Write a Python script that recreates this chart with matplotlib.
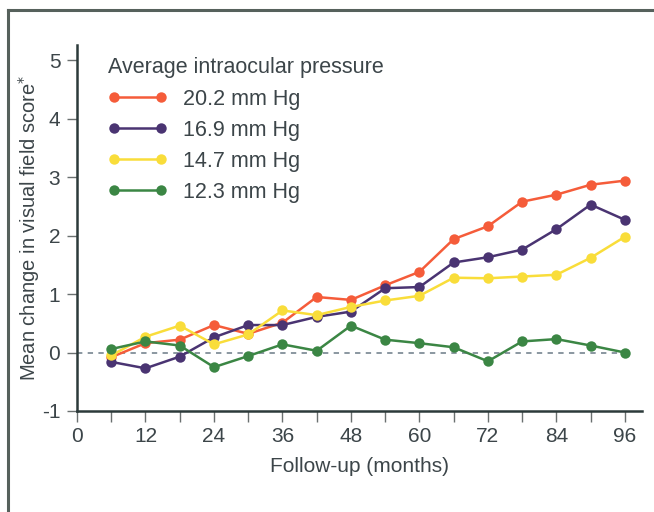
import matplotlib
matplotlib.use("Agg")
import matplotlib.pyplot as plt
from matplotlib.lines import Line2D
from matplotlib.legend_handler import HandlerLine2D

plt.rcParams['font.family'] = ['Liberation Sans', 'DejaVu Sans']

months = [6, 12, 18, 24, 30, 36, 42, 48, 54, 60, 66, 72, 78, 84, 90, 96]
series_labels = ["20.2 mm Hg", "16.9 mm Hg", "14.7 mm Hg", "12.3 mm Hg"]
iop_20_2 = [-0.08, 0.16, 0.22, 0.47, 0.32, 0.51, 0.95, 0.90, 1.15, 1.38, 1.94, 2.16, 2.58, 2.70, 2.87, 2.94]
iop_16_9 = [-0.16, -0.27, -0.07, 0.26, 0.47, 0.47, 0.61, 0.70, 1.10, 1.12, 1.54, 1.63, 1.76, 2.11, 2.53, 2.27]
iop_14_7 = [-0.05, 0.27, 0.46, 0.14, 0.31, 0.72, 0.64, 0.78, 0.89, 0.97, 1.28, 1.27, 1.30, 1.33, 1.62, 1.98]
iop_12_3 = [0.06, 0.19, 0.12, -0.25, -0.06, 0.14, 0.03, 0.46, 0.22, 0.16, 0.09, -0.15, 0.19, 0.23, 0.12, 0.00]
colors = ["#f55c3a", "#4a3472", "#f9dd3a", "#3b8644"]
x_ticks = [0, 12, 24, 36, 48, 60, 72, 84, 96]
y_ticks = [-1, 0, 1, 2, 3, 4, 5]

text_color = "#3c4549"
spine_color = "#2c3a3a"


class ShiftedHandler(HandlerLine2D):
    def __init__(self, shift, **kw):
        super().__init__(**kw)
        self.shift = shift

    def create_artists(self, legend, orig_handle, xdescent, ydescent, width,
                       height, fontsize, trans):
        return super().create_artists(legend, orig_handle, xdescent - self.shift,
                                      ydescent, width - self.shift, height,
                                      fontsize, trans)


fig = plt.figure(figsize=(6.54, 5.12), dpi=100)
fig.patch.set_facecolor("white")
ax = fig.add_axes([77/654, 101/512, 565/654, 366/512])

ax.axhline(0, xmin=0, xmax=(633-77)/565, color="#6b7a86", lw=1.1,
           ls=(0, (3.5, 3.5)), zorder=1)

for vals, lab, c in zip([iop_20_2, iop_16_9, iop_14_7, iop_12_3], series_labels, colors):
    ax.plot(months, vals, color=c, lw=1.8, marker="o", markersize=7.5,
            markeredgewidth=0, label=lab, zorder=3)

ax.set_xlim(0, 99)
ax.set_ylim(-1, 5.26)
ax.set_xticks(x_ticks)
ax.set_xticks([6 + 12 * i for i in range(8)], minor=True)
ax.set_yticks(y_ticks)
ax.set_yticklabels([str(v) for v in y_ticks])

for side in ["top", "right"]:
    ax.spines[side].set_visible(False)
for side in ["left", "bottom"]:
    ax.spines[side].set_color(spine_color)
    ax.spines[side].set_linewidth(1.8)

ax.tick_params(axis="both", which="both", direction="out", width=1.0,
               color="#6a7070", labelcolor=text_color, labelsize=15)
ax.tick_params(axis="y", which="major", length=7, pad=5)
ax.tick_params(axis="x", which="both", length=8, pad=3.5)

ax.set_xlabel("Follow-up (months)", fontsize=15, color=text_color, labelpad=8)
ax.set_ylabel("Mean change in visual field score$^{*}$", fontsize=14.5,
              color=text_color, labelpad=0)

leg = ax.legend(title="Average intraocular pressure", loc="upper left",
                bbox_to_anchor=(102/654, 461/512), bbox_transform=fig.transFigure,
                frameon=False, fontsize=15.5, title_fontsize=15.5, numpoints=2,
                handlelength=2.45, handletextpad=1.0, labelspacing=0.47,
                alignment="left", borderaxespad=0, borderpad=0.3,
                handler_map={Line2D: ShiftedHandler(4.0, marker_pad=0)})
for t in leg.get_texts():
    t.set_color(text_color)
leg.get_title().set_color(text_color)

# page frame (top and left borders)
fig.add_artist(Line2D([8/654, 1.0], [1 - 10/512, 1 - 10/512], transform=fig.transFigure,
                      color="#56615c", lw=2.2))
fig.add_artist(Line2D([8/654, 8/654], [0, 1 - 10/512], transform=fig.transFigure,
                      color="#56615c", lw=2.2))

fig.savefig("out.png", dpi=100)
